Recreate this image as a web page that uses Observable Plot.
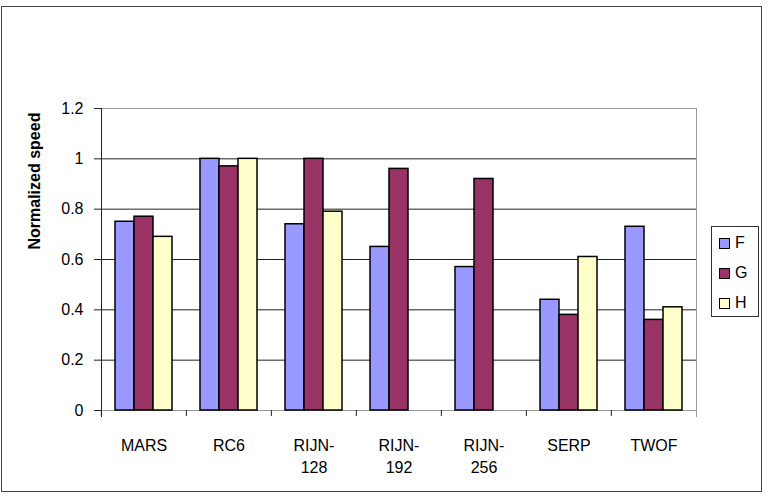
<!DOCTYPE html>
<html>
<head>
<meta charset="utf-8">
<script src="https://cdn.jsdelivr.net/npm/d3@7"></script>
<script src="https://cdn.jsdelivr.net/npm/@observablehq/plot@0.6"></script>
<style>
  html, body { margin: 0; padding: 0; background: #fff; }
  #wrap { position: relative; width: 770px; height: 497px; overflow: hidden; font-family: "Liberation Sans", Arial, sans-serif; }
  #wrap svg { position: absolute; left: 0; top: 0; }
  #wrap svg g[aria-label='bar'] rect { stroke: #000; stroke-width: 1.5px; }
  #outer { position: absolute; left: 1px; top: 6px; width: 759px; height: 484px; border: 1.5px solid #444; pointer-events: none; }
  #legend { position: absolute; left: 711px; top: 226px; width: 46px; height: 89px; border: 1px solid #333; background: #fff; }
  #legend .item { position: absolute; left: 7px; height: 20px; display: flex; align-items: center; font-size: 16px; color: #000; }
  #legend .sw { width: 9px; height: 9px; border: 1px solid #000; margin-right: 5px; }
</style>
</head>
<body>
<div id="wrap"></div>
<script>
const categories = ["MARS", "RC6", "RIJN-\n128", "RIJN-\n192", "RIJN-\n256", "SERP", "TWOF"];
const seriesNames = ["F", "G", "H"];
const valuesF = [0.75, 1.00, 0.74, 0.65, 0.57, 0.44, 0.73];
const valuesG = [0.77, 0.97, 1.00, 0.96, 0.92, 0.38, 0.36];
const valuesH = [0.69, 1.00, 0.79, null, null, 0.61, 0.41];
const yTicks = [0, 0.2, 0.4, 0.6, 0.8, 1, 1.2];
const seriesColors = ["#9999FF", "#993366", "#FFFFCC"];
const yLabel = "Normalized speed";

const W = 770, Hgt = 497, ml = 100, mr = 73, mt = 108, mb = 87;
const step = (W - ml - mr) / categories.length;

const seriesValues = [valuesF, valuesG, valuesH];
const data = categories.flatMap((c, i) =>
  seriesNames.map((s, j) => ({category: c, series: s, value: seriesValues[j][i]}))
).filter(d => d.value != null);

const plot = Plot.plot({
  width: W, height: Hgt,
  marginLeft: ml, marginRight: mr, marginTop: mt, marginBottom: mb,
  style: {fontFamily: "'Liberation Sans', Arial, sans-serif", fontSize: "16px", background: "transparent", color: "#000"},
  fx: {domain: categories, padding: 0, label: null},
  x: {domain: seriesNames, paddingInner: 0, paddingOuter: 0.706, axis: null},
  y: {domain: [0, 1.2], axis: null},
  color: {domain: seriesNames, range: seriesColors},
  marks: [
    Plot.ruleY(yTicks.filter(v => v < 1.2), {stroke: "#222", strokeWidth: 1}),
    Plot.frame({facet: "super", stroke: "#999"}),
    Plot.barY(data, {fx: "category", x: "series", y: "value", fill: "series", stroke: "#000", strokeWidth: 1.5}),
    Plot.frame({facet: "super", anchor: "left", stroke: "#222", insetBottom: -6}),
    Plot.frame({facet: "super", anchor: "right", stroke: "#999", insetBottom: -6}),
    Plot.axisY({ticks: yTicks, tickFormat: d => String(d), tickSize: 7, tickPadding: 11, fontSize: 16, label: null, stroke: "#222"}),
    Plot.axisFx({anchor: "bottom", tickSize: 6, tickFormat: () => "", dx: -step / 2, label: null, stroke: "#222"}),
    Plot.axisFx({anchor: "bottom", tickSize: 0, tickPadding: 24, fontSize: 16, lineHeight: 1.42, label: null}),
    Plot.text([yLabel], {facet: "super", frameAnchor: "left", rotate: -90, dx: -67, dy: -10, fontWeight: "bold", fontSize: 16, fill: "#000"})
  ]
});

const wrap = document.getElementById("wrap");
wrap.appendChild(plot);

const outer = document.createElement("div");
outer.id = "outer";
wrap.appendChild(outer);

const colorScale = plot.scale("color");
const legend = document.createElement("div");
legend.id = "legend";
seriesNames.forEach((s, i) => {
  const item = document.createElement("div");
  item.className = "item";
  item.style.top = (6 + i * 30) + "px";
  const sw = document.createElement("div");
  sw.className = "sw";
  sw.style.background = colorScale.apply(s);
  const t = document.createElement("span");
  t.textContent = s;
  item.appendChild(sw);
  item.appendChild(t);
  legend.appendChild(item);
});
wrap.appendChild(legend);
</script>
</body>
</html>
